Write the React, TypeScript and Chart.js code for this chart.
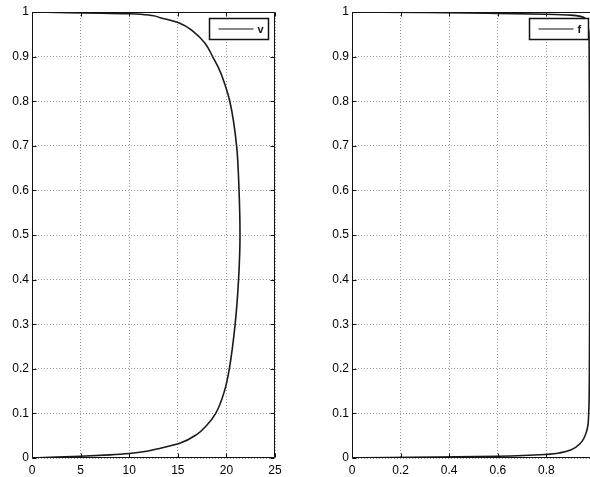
import React, { useEffect, useRef } from 'react';
import { Chart, registerables } from 'chart.js';

Chart.register(...registerables);

// ---- data ----
const heightLevels = [0, 0.002, 0.004, 0.007, 0.010, 0.015, 0.022, 0.033, 0.052, 0.074, 0.10, 0.15, 0.20, 0.30, 0.40, 0.50, 0.60, 0.70, 0.80, 0.85, 0.874, 0.897, 0.930, 0.956, 0.975, 0.987, 0.996, 1.0];
const vValues = [0, 2.5, 5.0, 8.0, 10.0, 11.8, 13.2, 15.2, 16.9, 18.0, 18.9, 19.8, 20.3, 20.9, 21.25, 21.4, 21.3, 21.05, 20.35, 19.65, 19.2, 18.65, 17.8, 16.6, 15.2, 13.2, 10.1, 0];

const fLevels = [0, 0.001, 0.002, 0.004, 0.008, 0.012, 0.018, 0.033, 0.063, 0.10, 0.2, 0.35, 0.5, 0.65, 0.8, 0.9, 0.95, 0.972, 0.985, 0.993, 0.995, 0.997, 0.999, 1.0];
const fValues = [0, 0.15, 0.35, 0.6, 0.8, 0.86, 0.9, 0.94, 0.967, 0.974, 0.977, 0.978, 0.978, 0.978, 0.977, 0.976, 0.975, 0.97, 0.96, 0.9, 0.8, 0.6, 0.3, 0];

const yTicks = [0, 0.1, 0.2, 0.3, 0.4, 0.5, 0.6, 0.7, 0.8, 0.9, 1];
const vTicks = [0, 5, 10, 15, 20, 25];
const fTicks = [0, 0.2, 0.4, 0.6, 0.8, 1];

const FONT = { family: '"Liberation Sans", Arial, Helvetica, sans-serif', size: 12 };

const framePlugin = {
  id: 'matlabFrame',
  afterDatasetsDraw(chart: any) {
    const { ctx, chartArea: a, scales } = chart;
    ctx.save();
    ctx.strokeStyle = '#111';
    ctx.lineWidth = 1;
    const l = Math.round(a.left) + 0.5, r = Math.round(a.right) - 0.5;
    const t = Math.round(a.top) + 0.5, b = Math.round(a.bottom) - 0.5;
    ctx.beginPath();
    ctx.rect(l, t, r - l, b - t);
    const L = 4;
    for (const tk of scales.x.ticks) {
      const px = Math.round(scales.x.getPixelForValue(tk.value)) + 0.5;
      ctx.moveTo(px, b); ctx.lineTo(px, b - L);
      ctx.moveTo(px, t); ctx.lineTo(px, t + L);
    }
    for (const tk of scales.y.ticks) {
      const py = Math.round(scales.y.getPixelForValue(tk.value)) + 0.5;
      ctx.moveTo(l, py); ctx.lineTo(l + L, py);
      ctx.moveTo(r, py); ctx.lineTo(r - L, py);
    }
    ctx.stroke();

    // legend box inside top-right corner
    const ds = chart.data.datasets[0];
    const bw = 59, bh = 21;
    const bx = Math.round(a.right) - 7 - bw + 0.5;
    const by = Math.round(a.top) + 6 + 0.5;
    ctx.fillStyle = '#fff';
    ctx.fillRect(bx, by, bw, bh);
    ctx.lineWidth = 1.5;
    ctx.strokeStyle = '#111';
    ctx.strokeRect(bx, by, bw, bh);
    ctx.beginPath();
    ctx.lineWidth = 1.2;
    ctx.moveTo(bx + 9, by + bh / 2);
    ctx.lineTo(bx + 44, by + bh / 2);
    ctx.stroke();
    ctx.fillStyle = '#111';
    ctx.font = `bold 11px ${FONT.family}`;
    ctx.textBaseline = 'middle';
    ctx.textAlign = 'left';
    ctx.fillText(ds.label, bx + 48, by + bh / 2 + 1);
    ctx.restore();
  },
};

function makeConfig(xs: number[], ys: number[], label: string, xTicks: number[], xMax: number, padLeft: number) {
  const tickSetter = (arr: number[]) => (scale: any) => {
    scale.ticks = arr.map((v) => ({ value: v }));
  };
  const fitter = (dim: 'width' | 'height', size: number) => (scale: any) => {
    scale[dim] = size;
    scale.paddingLeft = 0; scale.paddingRight = 0; scale.paddingTop = 0; scale.paddingBottom = 0;
  };
  const fmt = (v: any) => String(Number(Number(v).toFixed(2)));
  return {
    type: 'scatter' as const,
    data: {
      datasets: [{
        label,
        data: xs.map((x, i) => ({ x, y: ys[i] })),
        showLine: true,
        indexAxis: 'y' as const,
        cubicInterpolationMode: 'monotone' as const,
        borderColor: '#1a1a1a',
        borderWidth: 1.6,
        pointRadius: 0,
        fill: false,
      }],
    },
    options: {
      responsive: false,
      animation: false as const,
      indexAxis: 'y' as const,
      layout: { padding: { left: padLeft, top: 12, right: 25, bottom: 0 } },
      plugins: { legend: { display: false }, tooltip: { enabled: false } },
      scales: {
        x: {
          type: 'linear' as const,
          axis: 'x' as const,
          position: 'bottom' as const,
          min: 0,
          max: xMax,
          afterBuildTicks: tickSetter(xTicks),
          afterFit: fitter('height', 19),
          border: { display: false, dash: [1, 2] },
          grid: { color: '#9a9a9a', lineWidth: 1, drawTicks: false, borderDash: [1, 2] },
          ticks: { color: '#000', font: FONT, padding: 5, maxRotation: 0, autoSkip: false, callback: fmt },
        },
        y: {
          type: 'linear' as const,
          axis: 'y' as const,
          position: 'left' as const,
          min: 0,
          max: 1,
          afterBuildTicks: tickSetter(yTicks),
          afterFit: fitter('width', 32),
          border: { display: false, dash: [1, 2] },
          grid: { color: '#9a9a9a', lineWidth: 1, drawTicks: false, borderDash: [1, 2] },
          ticks: { color: '#000', font: FONT, padding: 3, autoSkip: false, callback: fmt },
        },
      },
    },
    plugins: [framePlugin],
  };
}

export default function App() {
  const leftRef = useRef<HTMLCanvasElement>(null);
  const rightRef = useRef<HTMLCanvasElement>(null);

  useEffect(() => {
    const c1 = new Chart(leftRef.current as HTMLCanvasElement, makeConfig(vValues, heightLevels, 'v', vTicks, 25, 0) as any);
    const c2 = new Chart(rightRef.current as HTMLCanvasElement, makeConfig(fValues, fLevels, 'f', fTicks, 1, 20) as any);
    return () => {
      c1.destroy();
      c2.destroy();
    };
  }, []);

  return (
    <div style={{ position: 'absolute', left: 0, top: 0, width: 590, height: 477, overflow: 'hidden', background: '#fff' }}>
      <div style={{ position: 'absolute', left: 0, top: 0, width: 300, height: 477 }}>
        <canvas ref={leftRef} width={300} height={477} style={{ display: 'block' }} />
      </div>
      <div style={{ position: 'absolute', left: 300, top: 0, width: 320, height: 477 }}>
        <canvas ref={rightRef} width={320} height={477} style={{ display: 'block' }} />
      </div>
    </div>
  );
}
